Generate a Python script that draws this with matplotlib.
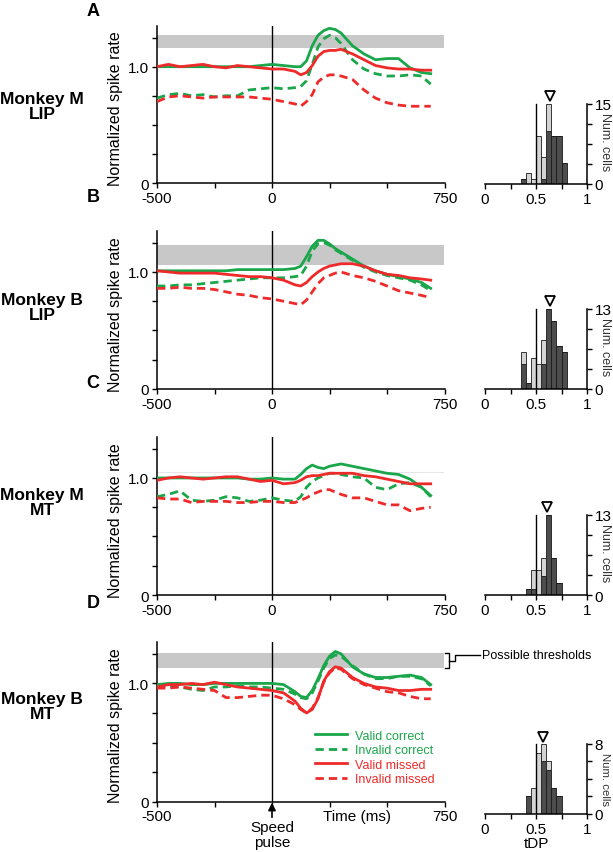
import matplotlib
matplotlib.use("Agg")
import matplotlib.pyplot as plt

plt.rcParams['font.family'] = ['Liberation Sans', 'DejaVu Sans']

GREEN = '#1aa64a'
RED = '#ee2a2a'
BAND = '#c8c8c8'
DARK = '#4d4d4d'
LIGHT = '#d4d4d4'

# time (ms) relative to the speed pulse, shared by all traces
T = [-500, -450, -400, -350, -300, -250, -200, -150, -100, -50, 0, 50, 100, 125,
     150, 175, 200, 225, 250, 275, 300, 350, 400, 450, 500, 550, 600, 650, 690]

# A: Monkey M, LIP
A_VC = [1.00, 1.00, 1.00, 1.00, 1.00, 1.00, 1.00, 1.00, 1.00, 1.01, 1.02, 1.01, 1.00, 1.00,
        1.05, 1.18, 1.27, 1.31, 1.33, 1.32, 1.29, 1.18, 1.11, 1.06, 1.07, 1.07, 0.99, 0.95, 0.94]
A_IC = [0.73, 0.76, 0.77, 0.75, 0.76, 0.74, 0.75, 0.75, 0.80, 0.81, 0.82, 0.81, 0.82, 0.83,
        0.88, 1.02, 1.17, 1.24, 1.27, 1.25, 1.20, 1.06, 0.98, 0.94, 0.92, 0.92, 0.93, 0.92, 0.85]
A_VM = [1.00, 1.02, 1.00, 1.01, 1.02, 1.00, 0.99, 1.01, 1.00, 0.99, 0.98, 0.98, 0.96, 0.93,
        0.95, 1.01, 1.09, 1.13, 1.14, 1.14, 1.15, 1.11, 1.06, 1.01, 0.99, 0.98, 0.98, 0.97, 0.97]
A_IM = [0.70, 0.74, 0.75, 0.74, 0.73, 0.74, 0.74, 0.74, 0.74, 0.73, 0.72, 0.70, 0.68, 0.66,
        0.70, 0.76, 0.87, 0.91, 0.93, 0.93, 0.92, 0.89, 0.80, 0.73, 0.69, 0.67, 0.66, 0.66, 0.66]
A_BAND = (1.16, 1.27)

# B: Monkey B, LIP
B_VC = [1.01, 1.01, 1.01, 1.01, 1.01, 1.01, 1.01, 1.02, 1.02, 1.02, 1.02, 1.02, 1.03, 1.05,
        1.13, 1.22, 1.27, 1.27, 1.24, 1.20, 1.17, 1.11, 1.05, 1.01, 0.98, 0.96, 0.94, 0.91, 0.86]
B_IC = [0.88, 0.88, 0.89, 0.89, 0.90, 0.91, 0.92, 0.93, 0.94, 0.95, 0.95, 0.95, 0.96, 0.97,
        1.05, 1.18, 1.24, 1.25, 1.23, 1.19, 1.16, 1.10, 1.04, 1.00, 0.97, 0.95, 0.93, 0.89, 0.84]
B_VM = [1.01, 1.00, 0.99, 0.99, 0.99, 0.99, 0.98, 0.97, 0.96, 0.96, 0.95, 0.93, 0.89, 0.88,
        0.91, 0.96, 1.00, 1.03, 1.05, 1.06, 1.07, 1.07, 1.05, 1.01, 0.98, 0.97, 0.95, 0.94, 0.93]
B_IM = [0.86, 0.86, 0.87, 0.86, 0.86, 0.85, 0.83, 0.81, 0.80, 0.78, 0.77, 0.75, 0.73, 0.72,
        0.76, 0.83, 0.90, 0.95, 0.97, 0.99, 1.00, 0.97, 0.95, 0.92, 0.88, 0.84, 0.82, 0.80, 0.78]
B_BAND = (1.06, 1.23)

# C: Monkey M, MT
C_VC = [1.00, 1.00, 1.00, 1.00, 1.00, 1.00, 1.00, 1.00, 0.99, 0.99, 1.00, 0.99, 0.99, 1.03,
        1.08, 1.11, 1.09, 1.08, 1.10, 1.11, 1.12, 1.10, 1.08, 1.06, 1.04, 1.03, 0.99, 0.92, 0.85]
C_IC = [0.84, 0.86, 0.89, 0.81, 0.80, 0.81, 0.84, 0.83, 0.80, 0.81, 0.83, 0.81, 0.80, 0.84,
        0.92, 0.97, 1.00, 1.02, 1.04, 1.04, 1.03, 1.01, 1.00, 0.92, 0.90, 0.95, 0.96, 0.92, 0.84]
C_VM = [0.98, 1.00, 1.01, 1.00, 0.99, 1.00, 1.01, 1.01, 0.99, 0.97, 0.98, 0.95, 0.96, 0.98,
        1.01, 1.02, 1.02, 1.03, 1.04, 1.04, 1.04, 1.04, 1.02, 1.01, 0.99, 0.97, 0.95, 0.95, 0.95]
C_IM = [0.83, 0.82, 0.82, 0.79, 0.80, 0.80, 0.80, 0.79, 0.79, 0.80, 0.80, 0.79, 0.79, 0.81,
        0.83, 0.86, 0.88, 0.90, 0.90, 0.88, 0.86, 0.83, 0.83, 0.80, 0.77, 0.77, 0.72, 0.74, 0.75]
C_LINE = 1.05

# D: Monkey B, MT
D_VC = [0.99, 1.00, 1.00, 0.99, 0.99, 1.00, 1.00, 1.00, 1.00, 1.00, 1.00, 0.99, 0.93, 0.89,
        0.88, 0.94, 1.04, 1.15, 1.23, 1.27, 1.25, 1.14, 1.08, 1.05, 1.05, 1.06, 1.07, 1.05, 0.99]
D_IC = [0.97, 0.98, 0.97, 0.95, 0.94, 0.97, 0.97, 0.98, 0.97, 0.97, 0.96, 0.95, 0.91, 0.88,
        0.87, 0.92, 1.02, 1.13, 1.21, 1.24, 1.23, 1.15, 1.08, 1.04, 1.04, 1.06, 1.06, 1.04, 0.98]
D_VM = [0.97, 0.99, 0.99, 1.00, 0.99, 1.01, 0.99, 0.97, 0.96, 0.95, 0.94, 0.92, 0.85, 0.79,
        0.75, 0.78, 0.87, 1.02, 1.10, 1.14, 1.13, 1.05, 1.00, 0.97, 0.96, 0.94, 0.94, 0.95, 0.95]
D_IM = [0.96, 0.96, 0.97, 0.96, 0.95, 0.94, 0.88, 0.88, 0.89, 0.90, 0.90, 0.87, 0.82, 0.78,
        0.75, 0.79, 0.88, 1.01, 1.09, 1.13, 1.12, 1.04, 0.99, 0.96, 0.93, 0.92, 0.89, 0.87, 0.87]
D_BAND = (1.13, 1.255)

# tDP histograms: left bin edges, dark / light counts (stacked), max count, median
A_BINS = [0.35, 0.40, 0.45, 0.50, 0.55, 0.60, 0.65, 0.70, 0.75]
A_DARK = [1, 0, 0, 0, 1, 10, 9, 9, 4]
A_LIGHT = [0, 2, 1, 9, 4, 5, 0, 0, 0]
B_BINS = [0.35, 0.40, 0.45, 0.50, 0.55, 0.60, 0.65, 0.70, 0.75]
B_DARK = [4, 1, 0, 0, 4, 13, 11, 7, 6]
B_LIGHT = [2, 0, 5, 4, 4, 0, 0, 0, 0]
C_BINS = [0.40, 0.45, 0.50, 0.55, 0.60, 0.65, 0.70]
C_DARK = [1, 1, 0, 3, 13, 6, 2]
C_LIGHT = [0, 3, 4, 3, 0, 0, 0]
D_BINS = [0.40, 0.45, 0.50, 0.55, 0.60, 0.65, 0.70]
D_DARK = [2, 0, 0, 6, 5, 3, 2]
D_LIGHT = [0, 3, 7, 2, 1, 0, 0]
HIST_MAX = [15, 13, 13, 8]
MEDIANS = [0.635, 0.635, 0.61, 0.57]

LETTERS = ['A', 'B', 'C', 'D']
ROWS = ['Monkey M\nLIP', 'Monkey B\nLIP', 'Monkey M\nMT', 'Monkey B\nMT']
LABELS = ['Valid correct', 'Invalid correct', 'Valid missed', 'Invalid missed']

panels = [
    (A_VC, A_IC, A_VM, A_IM, A_BAND, A_BINS, A_DARK, A_LIGHT),
    (B_VC, B_IC, B_VM, B_IM, B_BAND, B_BINS, B_DARK, B_LIGHT),
    (C_VC, C_IC, C_VM, C_IM, None, C_BINS, C_DARK, C_LIGHT),
    (D_VC, D_IC, D_VM, D_IM, D_BAND, D_BINS, D_DARK, D_LIGHT),
]

W, H = 613, 853
fig = plt.figure(figsize=(W / 100, H / 100), dpi=100)


def box(l, t, r, b):
    return [l / W, 1 - b / H, (r - l) / W, (b - t) / H]


tops = [27, 232, 438, 643]
bottoms = [184, 390, 596, 802.7]
h_tops = [27, 232, 438, 677]
h_bottoms = [185, 390, 596, 815]
cells_y = [0.53, 0.53, 0.53, 0.5]
cells_fs = [9, 9, 9, 8.2]
letter_y = [12, 198, 384, 604]
row_y = [107, 308, 503, 707]

for i, (vc, ic, vm, im, band, bins, dark, light) in enumerate(panels):
    ax = fig.add_axes(box(157, tops[i], 444.5, bottoms[i]))
    ax.set_zorder(2)
    ax.patch.set_visible(False)
    if band is not None:
        ax.axhspan(band[0], band[1], color=BAND, lw=0, zorder=0)
    else:
        ax.axhline(C_LINE, color='#e6e6e6', lw=0.8, zorder=0)
    ax.axvline(0, color='black', lw=1.0, zorder=1)
    styles = [(vc, GREEN, '-'), (ic, GREEN, '--'), (vm, RED, '-'), (im, RED, '--')]
    for (y, c, ls), lab in zip(styles, LABELS):
        ln, = ax.plot(T, y, color=c, lw=2.0, ls=ls, label=lab, zorder=3)
        if ls == '--':
            ln.set_dashes((3.0, 1.8))
    ax.set_xlim(-500, 750)
    ax.set_ylim(0, 1.35)
    ax.set_xticks([-500, -250, 0, 250, 500, 750])
    zero_lab = '' if i == 3 else '0'
    ax.set_xticklabels(['-500', '', zero_lab, '', '', '750'])
    ax.set_yticks([0, 0.25, 0.5, 0.75, 1.0, 1.25])
    ax.set_yticklabels(['0', '', '', '', '1.0', ''])
    ax.tick_params(direction='out', length=3.5, width=1, labelsize=11, pad=2)
    for s in ['top', 'right']:
        ax.spines[s].set_visible(False)
    for s in ['left', 'bottom']:
        ax.spines[s].set_linewidth(1.1)
    ax.set_ylabel('Normalized spike rate', fontsize=11.5)
    ax.yaxis.set_label_coords(-0.118, 0.48)

    fig.text(93 / W, 1 - letter_y[i] / H, LETTERS[i], fontsize=13, fontweight='bold',
             ha='center', va='center')
    fig.text(42 / W, 1 - row_y[i] / H, ROWS[i], fontsize=12.5, fontweight='bold',
             ha='center', va='center', linespacing=1.05)

    if i == 3:
        ax.legend(loc='upper left', bbox_to_anchor=(0.55, 0.45), frameon=False,
                  fontsize=9, handlelength=2.56, handletextpad=0.64,
                  labelspacing=0.2, borderpad=0, borderaxespad=0,
                  labelcolor='linecolor')
        ax.annotate('Speed\npulse', xy=(0, -0.006), xycoords=('data', 'axes fraction'),
                    xytext=(0, -0.115), textcoords=('data', 'axes fraction'),
                    ha='center', va='top', fontsize=11, linespacing=1.1,
                    arrowprops=dict(arrowstyle='-|>', color='black', lw=1.2,
                                    mutation_scale=11, shrinkA=0, shrinkB=0))
        ax.text(370, -0.09, 'Time (ms)', transform=ax.get_xaxis_transform(),
                ha='center', va='center', fontsize=11)
        # bracket marking the threshold band
        mid = (band[0] + band[1]) / 2
        ax.plot([752, 770, 770, 752], [band[0], band[0], band[1], band[1]],
                color='black', lw=1, clip_on=False)
        ax.plot([770, 796, 796, 904], [mid, mid, 1.238, 1.238],
                color='black', lw=1, clip_on=False)
        ax.text(913, 1.238, 'Possible thresholds', fontsize=9, ha='left', va='center',
                clip_on=False)

    # histogram of tDP
    hx = fig.add_axes(box(485, h_tops[i], 587, h_bottoms[i]))
    hx.set_zorder(1)
    hx.patch.set_visible(False)
    ymax = HIST_MAX[i]
    hx.bar(bins, dark, width=0.05, align='edge', color=DARK, edgecolor='#1a1a1a', lw=0.6)
    hx.bar(bins, light, width=0.05, align='edge', bottom=dark, color=LIGHT,
           edgecolor='#1a1a1a', lw=0.6)
    hx.plot([0.5, 0.5], [0, ymax], color='black', lw=1.0)
    hx.plot([MEDIANS[i]], [ymax * 1.1], marker='v', ms=6.5, mfc='white', mec='black', mew=1.3)
    hx.set_xlim(0, 1)
    hx.set_ylim(0, ymax * 1.97)
    hx.set_xticks([0, 0.25, 0.5, 0.75, 1])
    hx.set_xticklabels(['0', '', '0.5', '', '1'])
    hx.yaxis.tick_right()
    hx.set_yticks([0, ymax / 4, ymax / 2, 3 * ymax / 4, ymax])
    hx.set_yticklabels(['0', '', '', '', str(ymax)])
    hx.tick_params(direction='out', length=3.5, width=1, labelsize=11, pad=2)
    for s in ['top', 'left']:
        hx.spines[s].set_visible(False)
    hx.spines['right'].set_bounds(0, ymax)
    hx.spines['right'].set_linewidth(1.1)
    hx.spines['bottom'].set_linewidth(1.1)
    hx.text(1.18, ymax * cells_y[i], 'Num. cells', rotation=270, fontsize=cells_fs[i],
            color='#333333', ha='center', va='center', clip_on=False)
    if i == 3:
        hx.set_xlabel('tDP', fontsize=11, labelpad=0)

fig.savefig('out.png', dpi=100)
